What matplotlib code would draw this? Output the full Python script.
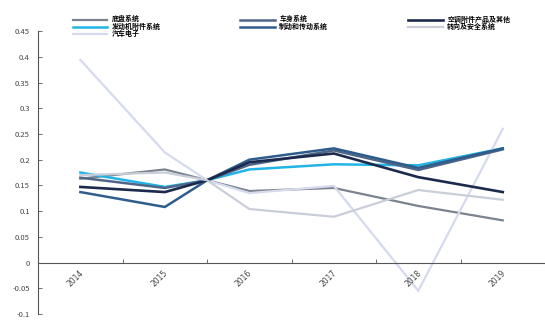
import matplotlib
matplotlib.use("Agg")
import matplotlib.pyplot as plt
from matplotlib.ticker import FixedLocator, MultipleLocator, FormatStrFormatter

plt.rcParams['font.family'] = ['Noto Sans CJK SC', 'DejaVu Sans']

# x positions (years); 2015.5 is the mid-period point where all series meet
years = [2014, 2015, 2015.5, 2016, 2017, 2018, 2019]
year_labels = ['2014', '2015', '2016', '2017', '2018', '2019']

chassis    = [0.163, 0.181, 0.160, 0.139, 0.145, 0.110, 0.082]
body       = [0.165, 0.145, 0.160, 0.190, 0.218, 0.180, 0.220]
hvac_other = [0.147, 0.137, 0.160, 0.195, 0.212, 0.166, 0.137]
engine_acc = [0.175, 0.147, 0.160, 0.181, 0.191, 0.189, 0.222]
brake      = [0.137, 0.108, 0.160, 0.200, 0.222, 0.184, 0.222]
steering   = [0.170, 0.175, 0.160, 0.104, 0.089, 0.141, 0.122]
electronic = [0.394, 0.214, 0.160, 0.135, 0.149, -0.055, 0.260]

series = [
    ('底盘系统', chassis, '#7b838f', 1.6),
    ('发动机附件系统', engine_acc, '#22b4e6', 1.8),
    ('汽车电子', electronic, '#d6daee', 1.6),
    ('车身系统', body, '#4f6688', 1.8),
    ('制动和传动系统', brake, '#2e5d8c', 1.8),
    ('空调附件产品及其他', hvac_other, '#1c2a4c', 1.9),
    ('转向及安全系统', steering, '#c9ced9', 1.6),
]

fig = plt.figure(figsize=(5.45, 3.24), dpi=100)
ax = fig.add_axes([0.07, 0.031, 0.93, 0.873])

handles = []
for name, vals, color, lw in series:
    h, = ax.plot(years, vals, color=color, lw=lw, label=name,
                 solid_joinstyle='miter')
    handles.append(h)

ax.set_xlim(2013.5, 2019.5)
ax.set_ylim(-0.1, 0.45)

for s in ['top', 'right']:
    ax.spines[s].set_visible(False)
ax.spines['bottom'].set_position(('data', 0))
ax.spines['left'].set_color('#555555')
ax.spines['bottom'].set_color('#555555')
ax.spines['left'].set_linewidth(0.8)
ax.spines['bottom'].set_linewidth(0.8)

ax.yaxis.set_major_locator(MultipleLocator(0.05))
ax.yaxis.set_major_formatter(FormatStrFormatter('%g'))
ax.tick_params(axis='y', labelsize=5.5, labelcolor='#444444', length=3,
               direction='in', color='#555555', width=0.6, pad=6)

# category boundaries carry the tick marks; labels sit under each year
ax.xaxis.set_major_locator(FixedLocator([y + 0.5 for y in range(2013, 2020)]))
ax.set_xticklabels([])
ax.tick_params(axis='x', which='major', length=3, direction='in',
               color='#555555', width=0.6)
for i, lab in enumerate(year_labels):
    ax.text(2014 + i - 0.02, -0.012, lab, rotation=45, ha='right', va='top',
            rotation_mode='anchor', fontsize=5.5, color='#444444',
            family='DejaVu Sans')

fig.legend(handles=handles, ncol=3, loc='upper left',
           bbox_to_anchor=(0.127, 0.962), frameon=False,
           prop={'size': 5.0, 'weight': 'bold'},
           handlelength=5.0, handletextpad=0.6,
           columnspacing=11.5, labelspacing=0.0, borderpad=0.0)

fig.savefig('out.png', dpi=100)
